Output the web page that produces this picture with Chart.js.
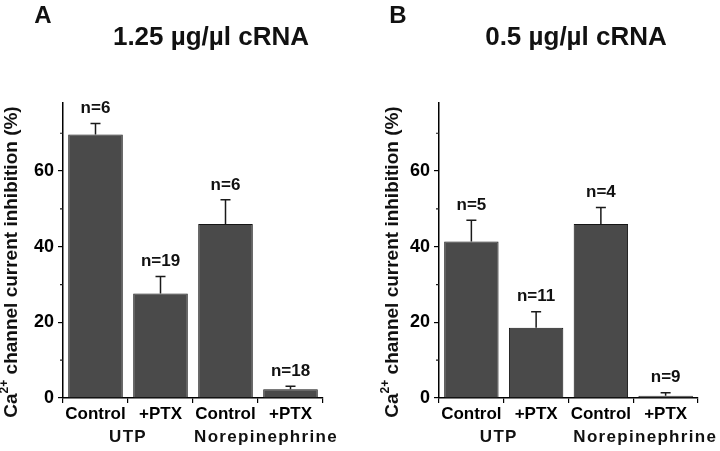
<!DOCTYPE html>
<html>
<head>
<meta charset="utf-8">
<script src="https://cdn.jsdelivr.net/npm/chart.js@4.4.1/dist/chart.umd.min.js"></script>
<style>
  body { margin: 0; background: #fff; width: 720px; height: 451px; position: relative; overflow: hidden; }
  .panel { position: absolute; top: 0; width: 360px; height: 451px; }
</style>
</head>
<body>
<div class="panel" style="left:0"><canvas id="chartA" width="360" height="451"></canvas></div>
<div class="panel" style="left:360px"><canvas id="chartB" width="360" height="451"></canvas></div>
<script>
// data
const categories = ["Control", "+PTX", "Control", "+PTX"];
const groupLabels = ["UTP", "Norepinephrine"];
const yTicks = [0, 20, 40, 60];
const yMinorTicks = [10, 30, 50, 70];
const yMax = 78;

const meansA = [69.7, 27.6, 46.0, 2.3];
const errorsA = [2.9, 4.5, 6.4, 0.8];
const countsA = ["n=6", "n=19", "n=6", "n=18"];

const meansB = [41.4, 18.6, 46.0, 0.6];
const errorsB = [5.6, 4.2, 4.4, 0.8];
const countsB = ["n=5", "n=11", "n=4", "n=9"];

const FONT = "'Liberation Sans', Arial, Helvetica, sans-serif";

// draws error whiskers, n= labels, minor ticks, titles and group labels
const extrasPlugin = {
  id: "extras",
  afterDatasetsDraw(chart) {
    const ctx = chart.ctx;
    const o = chart.options.plugins.extras;
    const y = chart.scales.y;
    const x = chart.scales.x;
    const bars = chart.getDatasetMeta(0).data;

    ctx.save();
    ctx.strokeStyle = "#1a1a1a";
    ctx.lineWidth = 1.5;
    ctx.fillStyle = "#111";
    ctx.font = "bold 17px " + FONT;
    ctx.textAlign = "center";
    ctx.textBaseline = "middle";
    bars.forEach((bar, i) => {
      const top = y.getPixelForValue(o.means[i]);
      const errTop = y.getPixelForValue(o.means[i] + o.errors[i]);
      ctx.beginPath();
      ctx.moveTo(bar.x, top);
      ctx.lineTo(bar.x, errTop);
      ctx.moveTo(bar.x - 5, errTop);
      ctx.lineTo(bar.x + 5, errTop);
      ctx.stroke();
      ctx.fillText(o.counts[i], bar.x, errTop - 15);
    });

    // minor ticks on y axis
    ctx.lineWidth = 1.2;
    ctx.beginPath();
    yMinorTicks.forEach(v => {
      const py = y.getPixelForValue(v);
      ctx.moveTo(x.left - 3, py);
      ctx.lineTo(x.left, py);
    });
    ctx.stroke();

    // group labels under the category labels
    ctx.font = "bold 17px " + FONT;
    ctx.textBaseline = "middle";
    ctx.letterSpacing = "1.3px";
    groupLabels.forEach((g, k) => {
      const cx = (x.getPixelForValue(2 * k) + x.getPixelForValue(2 * k + 1)) / 2 + o.groupShift[k];
      ctx.fillText(g, cx, 437);
    });
    ctx.letterSpacing = "0px";

    // panel letter and title
    ctx.font = "bold 24px " + FONT;
    ctx.fillText(o.letter, o.letterX, 16);
    ctx.font = "bold 26px " + FONT;
    ctx.fillText(o.title, o.titleX, 38);

    // y axis title with superscript
    const main = "Ca";
    const sup = "2+";
    const rest = " channel current inhibition (%)";
    const mainFont = "bold 19px " + FONT;
    const supFont = "bold 12px " + FONT;
    ctx.font = mainFont;
    const w1 = ctx.measureText(main).width;
    const w3 = ctx.measureText(rest).width;
    ctx.font = supFont;
    const w2 = ctx.measureText(sup).width;
    const total = w1 + w2 + w3;
    ctx.translate(o.yTitleX, 262);
    ctx.rotate(-Math.PI / 2);
    ctx.textAlign = "left";
    ctx.textBaseline = "middle";
    let sx = -total / 2;
    ctx.font = mainFont;
    ctx.fillText(main, sx, 0);
    sx += w1;
    ctx.font = supFont;
    ctx.fillText(sup, sx, -7);
    sx += w2;
    ctx.font = mainFont;
    ctx.fillText(rest, sx, 0);
    ctx.restore();
  }
};

function makeChart(id, means, errors, counts, look) {
  const ctx = document.getElementById(id).getContext("2d");
  return new Chart(ctx, {
    type: "bar",
    data: {
      labels: categories,
      datasets: [{
        data: means,
        backgroundColor: "#4a4a4a",
        borderColor: "#151515",
        borderWidth: 1,
        barPercentage: 0.84,
        categoryPercentage: 1.0
      }]
    },
    options: {
      responsive: false,
      animation: false,
      layout: { padding: { top: 103, right: look.padRight, bottom: 0, left: 0 } },
      plugins: {
        legend: { display: false },
        tooltip: { enabled: false },
        extras: {
          means, errors, counts,
          letter: look.letter, letterX: look.letterX,
          title: look.title, titleX: look.titleX,
          yTitleX: look.yTitleX,
          groupShift: look.groupShift
        }
      },
      scales: {
        x: {
          offset: true,
          grid: { display: true, offset: true, drawOnChartArea: false, drawTicks: true, tickLength: 5, color: "#000", lineWidth: 1.2 },
          border: { display: true, color: "#000", width: 1.5 },
          ticks: { color: "#000", font: { family: FONT, size: 17, weight: "bold" }, padding: 1, maxRotation: 0, autoSkip: false },
          afterFit(scale) { scale.height = 53; }
        },
        y: {
          min: 0,
          max: yMax,
          grid: { drawOnChartArea: false, drawTicks: true, tickLength: 5, color: "#000", lineWidth: 1.2 },
          border: { display: true, color: "#000", width: 1.5 },
          ticks: { color: "#000", font: { family: FONT, size: 18, weight: "bold" }, padding: 4 },
          afterBuildTicks(scale) { scale.ticks = yTicks.map(v => ({ value: v })); },
          afterFit(scale) { scale.width = look.axisLeft; }
        }
      }
    },
    plugins: [extrasPlugin]
  });
}

makeChart("chartA", meansA, errorsA, countsA, {
  letter: "A", letterX: 43, title: "1.25 \u00b5g/\u00b5l cRNA", titleX: 211,
  yTitleX: 12, axisLeft: 63, padRight: 37, groupShift: [0, 8]
});
makeChart("chartB", meansB, errorsB, countsB, {
  letter: "B", letterX: 38, title: "0.5 \u00b5g/\u00b5l cRNA", titleX: 216,
  yTitleX: 33, axisLeft: 79, padRight: 22, groupShift: [-5, 12]
});
</script>
</body>
</html>
